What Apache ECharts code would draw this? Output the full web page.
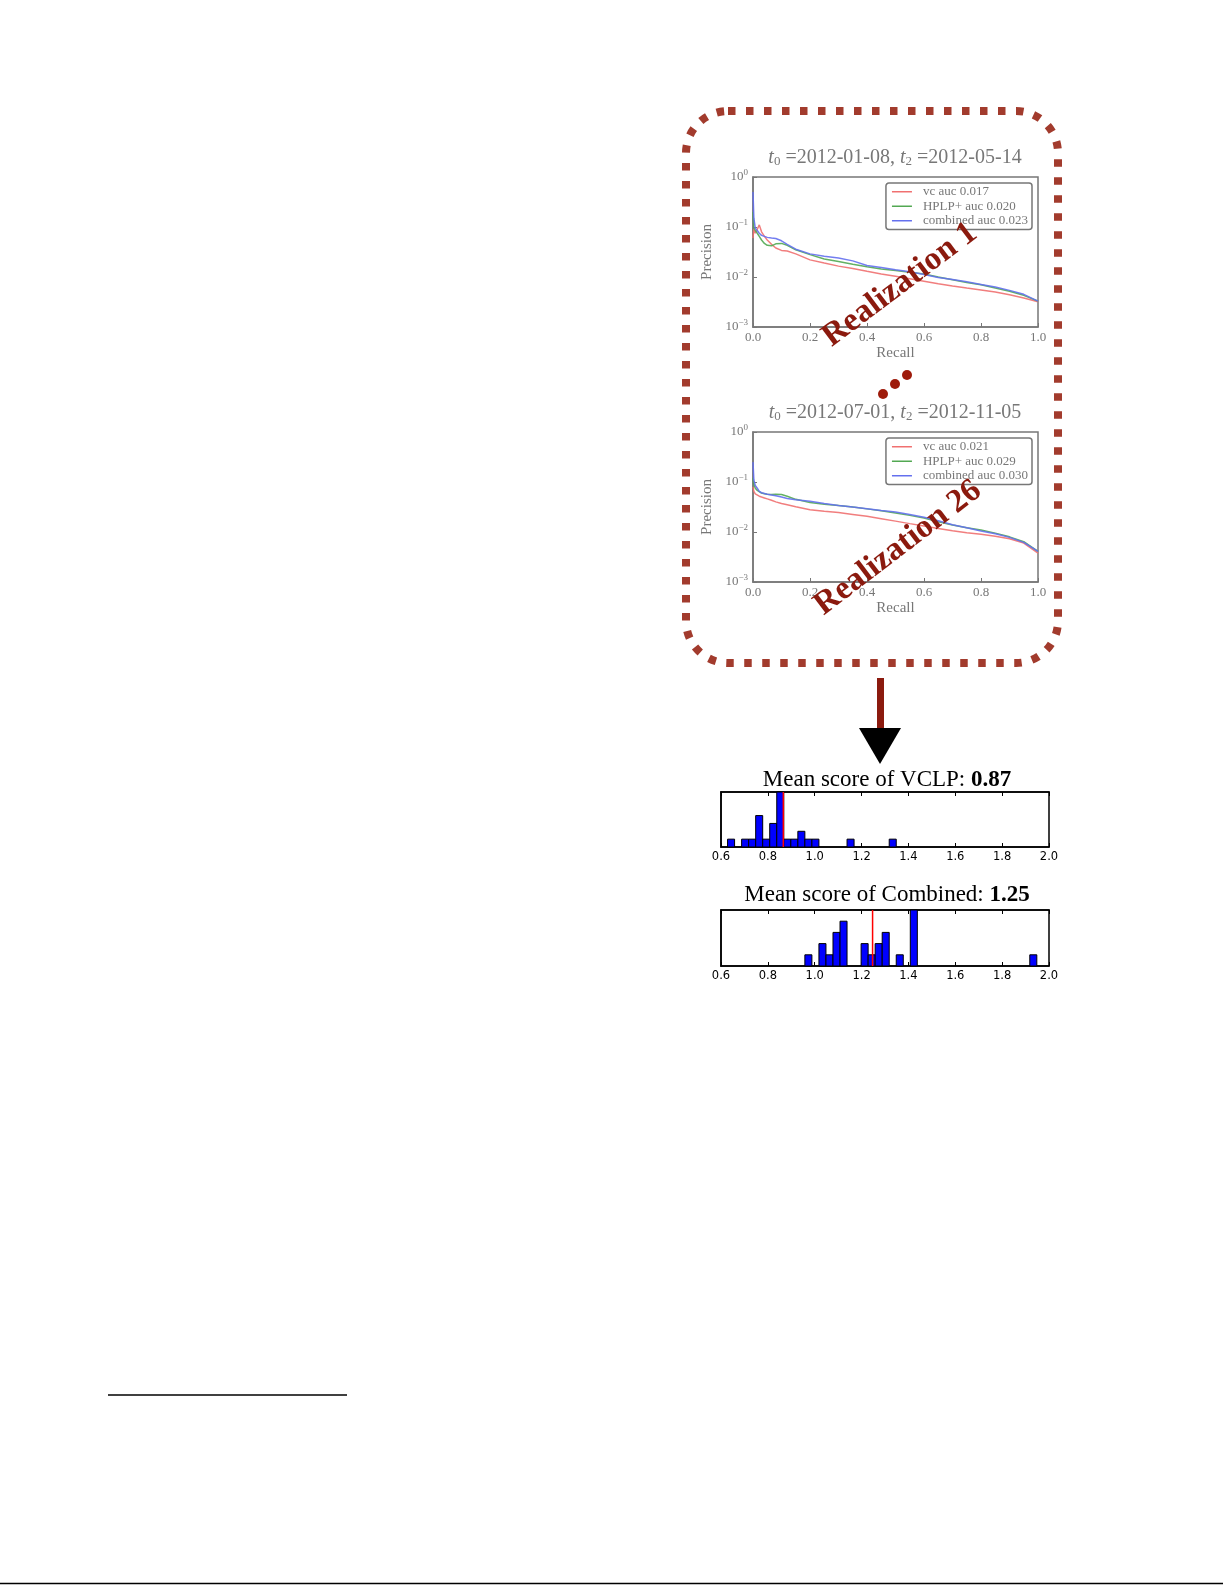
<!DOCTYPE html>
<html>
<head>
<meta charset="utf-8">
<script src="https://cdn.jsdelivr.net/npm/echarts@6/dist/echarts.min.js"></script>
<style>
  html, body { margin: 0; padding: 0; background: #fff; }
  #page { width: 1225px; height: 1585px; }
</style>
</head>
<body>
<div id="page"></div>
<script>
'use strict';

// recall grid shared by the precision-recall curves
var recall = [0, 0.003, 0.008, 0.015, 0.022, 0.03, 0.04, 0.05, 0.065, 0.08, 0.1, 0.12, 0.15, 0.2, 0.25,
  0.3, 0.35, 0.4, 0.45, 0.5, 0.55, 0.6, 0.65, 0.7, 0.75, 0.8, 0.85, 0.9, 0.95, 1.0];

// realization 1
var r1Names = ['vc auc 0.017', 'HPLP+ auc 0.020', 'combined auc 0.023'];
var r1Vc = [0.06, 0.09, 0.075, 0.09, 0.11, 0.08, 0.065, 0.055, 0.045, 0.038, 0.034, 0.033, 0.029, 0.022, 0.019,
  0.0165, 0.0148, 0.013, 0.0115, 0.0103, 0.0092, 0.0082, 0.0073, 0.0066, 0.006, 0.0055, 0.005, 0.0044, 0.0038, 0.0032];
var r1Hplp = [0.2, 0.1, 0.085, 0.075, 0.065, 0.055, 0.047, 0.043, 0.042, 0.046, 0.047, 0.043, 0.035, 0.028, 0.023,
  0.0205, 0.018, 0.016, 0.0145, 0.0135, 0.0125, 0.0115, 0.01, 0.0088, 0.0078, 0.007, 0.006, 0.0052, 0.0043, 0.0033];
var r1Comb = [0.5, 0.15, 0.095, 0.085, 0.075, 0.068, 0.065, 0.062, 0.06, 0.059, 0.053, 0.045, 0.036, 0.029, 0.026,
  0.024, 0.021, 0.017, 0.0155, 0.014, 0.0128, 0.0112, 0.0098, 0.0089, 0.008, 0.0071, 0.0063, 0.0054, 0.0045, 0.0033];

// realization 26
var r26Names = ['vc auc 0.021', 'HPLP+ auc 0.029', 'combined auc 0.030'];
var r26Vc = [0.08, 0.065, 0.058, 0.055, 0.052, 0.05, 0.048, 0.046, 0.043, 0.04, 0.037, 0.035, 0.032, 0.028, 0.026,
  0.0245, 0.0225, 0.0207, 0.0185, 0.0165, 0.0147, 0.0132, 0.0118, 0.0106, 0.0097, 0.009, 0.0082, 0.0073, 0.006, 0.0038];
var r26Hplp = [0.12, 0.09, 0.075, 0.068, 0.063, 0.06, 0.058, 0.057, 0.056, 0.057, 0.056, 0.052, 0.045, 0.039, 0.036,
  0.034, 0.0315, 0.029, 0.0265, 0.024, 0.0215, 0.019, 0.016, 0.0138, 0.0122, 0.011, 0.0095, 0.008, 0.0064, 0.0041];
var r26Comb = [0.25, 0.11, 0.085, 0.075, 0.065, 0.061, 0.059, 0.057, 0.055, 0.053, 0.05, 0.047, 0.044, 0.041, 0.037,
  0.034, 0.0315, 0.0293, 0.027, 0.025, 0.0223, 0.0197, 0.0168, 0.014, 0.0122, 0.0105, 0.0092, 0.0078, 0.0062, 0.0041];

// histograms of the scores over the 26 realizations
var binWidth = 0.03;
var vclpBinLeft = [0.628, 0.688, 0.718, 0.748, 0.778, 0.808, 0.838, 0.868, 0.898, 0.928, 0.958, 0.988, 1.138, 1.318];
var vclpCounts = [1, 1, 1, 4, 1, 3, 7, 1, 1, 2, 1, 1, 1, 1];
var vclpMean = 0.866;
var combBinLeft = [0.958, 1.018, 1.048, 1.078, 1.108, 1.198, 1.228, 1.258, 1.288, 1.348, 1.408, 1.918];
var combCounts = [1, 2, 1, 3, 4, 2, 1, 2, 3, 1, 5, 1];
var combMean = 1.247;

var lineColors = ['#f07070', '#52a852', '#6470ee'];
var serif = 'Liberation Serif';
var grey = '#777';
var darkRed = '#8b1a0e';

function zip(xs, ys) {
  return xs.map(function (x, i) { return [x, ys[i]]; });
}

function logLabel(v) {
  var e = Math.round(Math.log10(v));
  return '{b|10}{s|' + (e < 0 ? '\u2212' + (-e) : e) + '}';
}

function prAxes(gi) {
  return {
    x: {
      type: 'value', gridIndex: gi, min: 0, max: 1, interval: 0.2,
      name: 'Recall', nameLocation: 'middle', nameGap: 19,
      nameTextStyle: { fontFamily: serif, fontSize: 15, color: grey },
      axisLine: { show: true, lineStyle: { color: grey, width: 1.5 } },
      axisTick: { inside: true, length: 4, lineStyle: { color: grey } },
      axisLabel: { fontFamily: serif, fontSize: 13, color: grey, margin: 4,
        formatter: function (v) { return v.toFixed(1); } },
      splitLine: { show: false }
    },
    y: {
      type: 'log', logBase: 10, gridIndex: gi, min: 0.001, max: 1,
      name: 'Precision', nameLocation: 'middle', nameGap: 38,
      nameTextStyle: { fontFamily: serif, fontSize: 15, color: grey },
      axisLine: { show: true, lineStyle: { color: grey, width: 1.5 } },
      axisTick: { inside: true, length: 4, lineStyle: { color: grey } },
      axisLabel: {
        margin: 5, formatter: logLabel,
        rich: {
          b: { fontFamily: serif, fontSize: 13, color: grey },
          s: { fontFamily: serif, fontSize: 9, color: grey, padding: [0, 0, 8, 0] }
        }
      },
      splitLine: { show: false }
    }
  };
}

function prSeries(names, data, gi) {
  return names.map(function (n, i) {
    return {
      name: n, type: 'line', xAxisIndex: gi, yAxisIndex: gi,
      data: zip(recall, data[i]), showSymbol: false, symbol: 'none',
      lineStyle: { color: lineColors[i], width: 1.5, opacity: 0.9 },
      itemStyle: { color: lineColors[i] },
      silent: true, animation: false
    };
  });
}

function histSeries(lefts, counts, gi) {
  return {
    type: 'custom', xAxisIndex: gi, yAxisIndex: gi, animation: false, silent: true,
    data: zip(lefts, counts),
    renderItem: function (params, api) {
      var p0 = api.coord([api.value(0), 0]);
      var p1 = api.coord([api.value(0) + binWidth, api.value(1)]);
      return {
        type: 'rect',
        shape: { x: p0[0], y: p1[1], width: p1[0] - p0[0], height: p0[1] - p1[1] },
        style: { fill: '#0000ff', stroke: '#000', lineWidth: 1 }
      };
    }
  };
}

function meanSeries(mean, top, gi) {
  return {
    type: 'line', xAxisIndex: gi, yAxisIndex: gi, data: [[mean, 0], [mean, top]],
    symbol: 'none', lineStyle: { color: '#ff0000', width: 1.5 }, silent: true, animation: false, z: 5
  };
}

function histX(gi, pos, labels) {
  return {
    type: 'value', gridIndex: gi, position: pos, min: 0.6, max: 2.0, interval: 0.2,
    axisLine: { show: true, lineStyle: { color: '#000', width: 1.5 } },
    axisTick: { inside: true, length: 4, lineStyle: { color: '#000' } },
    axisLabel: { show: labels, fontFamily: 'DejaVu Sans', fontSize: 11.5, color: '#000', margin: 4,
      formatter: function (v) { return v.toFixed(1); } },
    splitLine: { show: false }
  };
}

function histY(gi, max) {
  return {
    type: 'value', gridIndex: gi, min: 0, max: max,
    axisLine: { show: true, lineStyle: { color: '#000', width: 1.5 } },
    axisTick: { show: false }, axisLabel: { show: false }, splitLine: { show: false }
  };
}

var a0 = prAxes(0), a1 = prAxes(1);

var legendBase = {
  orient: 'vertical', icon: 'rect', itemWidth: 20, itemHeight: 1.5, itemGap: 1,
  padding: [2, 4, 2, 6], borderColor: grey, borderWidth: 1.5, borderRadius: 3,
  backgroundColor: '#fff', selectedMode: false,
  textStyle: { fontFamily: serif, fontSize: 13, color: grey, lineHeight: 13.5, padding: [0, 0, 0, 6] }
};

function titleText(cx, cy, a, b) {
  return {
    type: 'text', x: cx, y: cy, z: 10,
    style: {
      text: '{i|t}{u|0}{n| =' + a + ', }{i|t}{u|2}{n| =' + b + '}',
      align: 'center', verticalAlign: 'middle',
      rich: {
        i: { fontFamily: serif, fontStyle: 'italic', fontSize: 20, fill: grey },
        n: { fontFamily: serif, fontSize: 20, fill: grey },
        u: { fontFamily: serif, fontSize: 13, fill: grey, padding: [8, 0, 0, 0] }
      }
    }
  };
}

function histTitle(cx, cy, label, value) {
  return {
    type: 'text', x: cx, y: cy, z: 10,
    style: {
      text: '{n|' + label + '}{b|' + value + '}', align: 'center', verticalAlign: 'middle',
      rich: {
        n: { fontFamily: serif, fontSize: 23, fill: '#000' },
        b: { fontFamily: serif, fontSize: 23, fontWeight: 'bold', fill: '#000' }
      }
    }
  };
}

function realization(cx, cy, text, deg) {
  return {
    type: 'text', x: cx, y: cy, rotation: deg * Math.PI / 180, z: 20,
    style: { text: text, align: 'center', verticalAlign: 'middle', fontFamily: serif,
      fontWeight: 'bold', fontSize: 33, fill: darkRed }
  };
}

var option = {
  backgroundColor: '#fff',
  animation: false,
  grid: [
    { left: 753, top: 177, width: 285, height: 150, show: true, borderColor: grey, borderWidth: 1.5, backgroundColor: 'transparent' },
    { left: 753, top: 432, width: 285, height: 150, show: true, borderColor: grey, borderWidth: 1.5, backgroundColor: 'transparent' },
    { left: 721, top: 792, width: 328, height: 55, show: true, borderColor: '#000', borderWidth: 1.5, backgroundColor: 'transparent' },
    { left: 721, top: 910, width: 328, height: 56, show: true, borderColor: '#000', borderWidth: 1.5, backgroundColor: 'transparent' }
  ],
  xAxis: [a0.x, a1.x, histX(2, 'bottom', true), histX(3, 'bottom', true), histX(2, 'top', false), histX(3, 'top', false)],
  yAxis: [a0.y, a1.y, histY(2, 7), histY(3, 5)],
  legend: [
    Object.assign({}, legendBase, { data: r1Names, right: 193, top: 183 }),
    Object.assign({}, legendBase, { data: r26Names, right: 193, top: 438 })
  ],
  series: []
    .concat(prSeries(r1Names, [r1Vc, r1Hplp, r1Comb], 0))
    .concat(prSeries(r26Names, [r26Vc, r26Hplp, r26Comb], 1))
    .concat([
      histSeries(vclpBinLeft, vclpCounts, 2),
      histSeries(combBinLeft, combCounts, 3),
      meanSeries(vclpMean, 7, 2),
      meanSeries(combMean, 5, 3)
    ]),
  graphic: [
    {
      type: 'rect', z: 1,
      shape: { x: 686, y: 111, width: 372, height: 552, r: 42 },
      style: { fill: 'none', stroke: '#a23b2d', lineWidth: 8, lineDash: [7.5, 10.5] }
    },
    titleText(895, 158, '2012-01-08', '2012-05-14'),
    titleText(895, 413, '2012-07-01', '2012-11-05'),
    realization(900, 285, 'Realization 1', 37),
    realization(898, 548, 'Realization 26', 37.4),
    { type: 'circle', shape: { cx: 883, cy: 394, r: 5 }, style: { fill: '#9e1b0b' } },
    { type: 'circle', shape: { cx: 895, cy: 384, r: 5 }, style: { fill: '#9e1b0b' } },
    { type: 'circle', shape: { cx: 907, cy: 375, r: 5 }, style: { fill: '#9e1b0b' } },
    { type: 'rect', shape: { x: 877, y: 678, width: 7, height: 52 }, style: { fill: darkRed } },
    { type: 'polygon', shape: { points: [[859, 728], [901, 728], [880, 764]] }, style: { fill: '#000' } },
    histTitle(887, 780, 'Mean score of VCLP: ', '0.87'),
    histTitle(887, 895, 'Mean score of Combined: ', '1.25'),
    { type: 'line', shape: { x1: 108, y1: 1395, x2: 347, y2: 1395 }, style: { stroke: '#000', lineWidth: 1.5 } },
    { type: 'line', shape: { x1: 0, y1: 1583.5, x2: 1223, y2: 1583.5 }, style: { stroke: '#000', lineWidth: 1.5 } }
  ]
};

var chart = echarts.init(document.getElementById('page'));
chart.setOption(option);
</script>
</body>
</html>
